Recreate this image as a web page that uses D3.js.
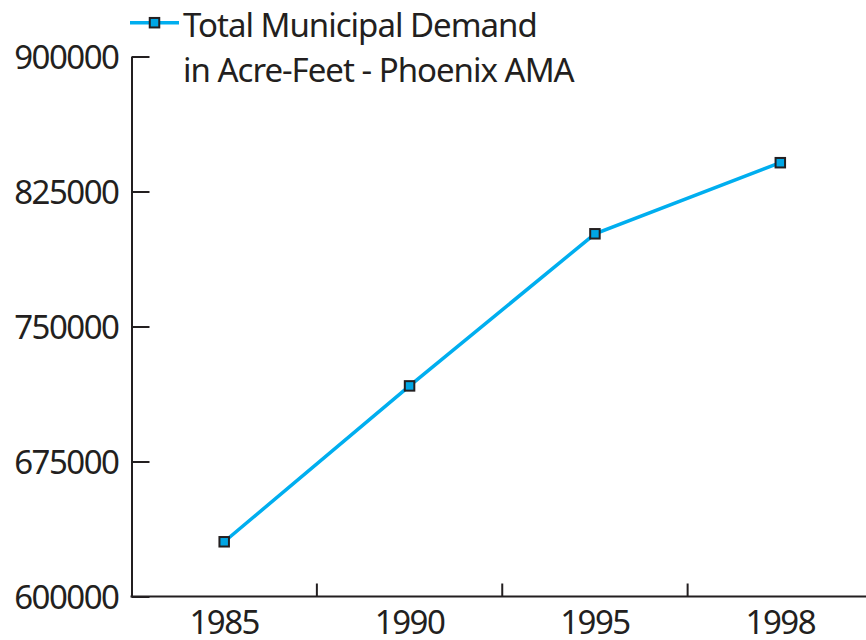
<!DOCTYPE html>
<html>
<head>
<meta charset="utf-8">
<script src="https://cdn.jsdelivr.net/npm/d3@7"></script>
<style>
  body { margin: 0; background: #fff; }
  svg text { font-family: "Noto Sans", "Open Sans", sans-serif; fill: #231f20; }
</style>
</head>
<body>
<svg id="chart"></svg>
<script>
// Data
const years = ["1985", "1990", "1995", "1998"];
const demand = [630400, 717000, 801500, 841000];
const yTicks = [600000, 675000, 750000, 825000, 900000];
const legendLines = ["Total Municipal Demand", "in Acre-Feet - Phoenix AMA"];

const width = 866, height = 640;
const margin = { top: 56.5, right: -7, bottom: 43.5, left: 131.5 };
const lineColor = "#00aeef";
const markFill = "#00a6e4";
const ink = "#231f20";
const fontSize = 33;

const svg = d3.select("#chart").attr("width", width).attr("height", height);

const x = d3.scaleBand()
    .domain(years)
    .range([margin.left, width - margin.right]);

const y = d3.scaleLinear()
    .domain([600000, 900000])
    .range([height - margin.bottom, margin.top]);

// Y axis, ticks pointing inward
const yAxis = svg.append("g")
    .attr("transform", `translate(${margin.left},0)`)
    .call(d3.axisLeft(y).tickValues(yTicks).tickSizeInner(-18).tickSizeOuter(0).tickPadding(13).tickFormat(d3.format("d")));
yAxis.select(".domain").attr("stroke", ink).attr("stroke-width", 2);
yAxis.selectAll(".tick line").attr("stroke", ink).attr("stroke-width", 2);
yAxis.selectAll(".tick text")
    .attr("font-size", fontSize).attr("letter-spacing", -1.5).attr("dy", "0.36em")
    .style("font-family", null);

// X axis: labels at band centres, ticks at band boundaries
const yBase = y(600000);
const xAxis = svg.append("g")
    .attr("transform", `translate(0,${yBase})`)
    .call(d3.axisBottom(x).tickSize(0).tickPadding(14));
xAxis.select(".domain").remove();
xAxis.selectAll(".tick text")
    .attr("font-size", fontSize).attr("letter-spacing", -1.5).attr("dy", "0.71em")
    .style("font-family", null);
xAxis.append("line")
    .attr("x1", margin.left - 1).attr("x2", width)
    .attr("stroke", ink).attr("stroke-width", 2);
xAxis.selectAll(".sep")
    .data(years.slice(1))
    .enter().append("line")
    .attr("class", "sep")
    .attr("x1", d => x(d)).attr("x2", d => x(d))
    .attr("y1", 0).attr("y2", -13)
    .attr("stroke", ink).attr("stroke-width", 2);

const points = years.map((yr, i) => ({ year: yr, value: demand[i] }));

const line = d3.line()
    .x(d => x(d.year) + x.bandwidth() / 2)
    .y(d => y(d.value));

svg.append("path")
    .datum(points)
    .attr("fill", "none")
    .attr("stroke", lineColor)
    .attr("stroke-width", 3.5)
    .attr("d", line);

const sz = 9.5;
svg.selectAll(".marker")
    .data(points)
    .enter().append("rect")
    .attr("class", "marker")
    .attr("x", d => x(d.year) + x.bandwidth() / 2 - sz / 2)
    .attr("y", d => y(d.value) - sz / 2)
    .attr("width", sz).attr("height", sz)
    .attr("fill", markFill)
    .attr("stroke", ink)
    .attr("stroke-width", 2);

// Legend
const legend = svg.append("g").attr("transform", "translate(130,22.7)");
legend.append("line")
    .attr("x1", 0).attr("x2", 49)
    .attr("stroke", lineColor).attr("stroke-width", 3.5);
legend.append("rect")
    .attr("x", 24.5 - sz / 2).attr("y", -sz / 2)
    .attr("width", sz).attr("height", sz)
    .attr("fill", markFill).attr("stroke", ink).attr("stroke-width", 2);
legend.selectAll("text")
    .data(legendLines)
    .enter().append("text")
    .attr("x", 53)
    .attr("y", (d, i) => 14.3 + i * 45)
    .attr("font-size", fontSize)
    .attr("letter-spacing", -1)
    .text(d => d);
</script>
</body>
</html>
